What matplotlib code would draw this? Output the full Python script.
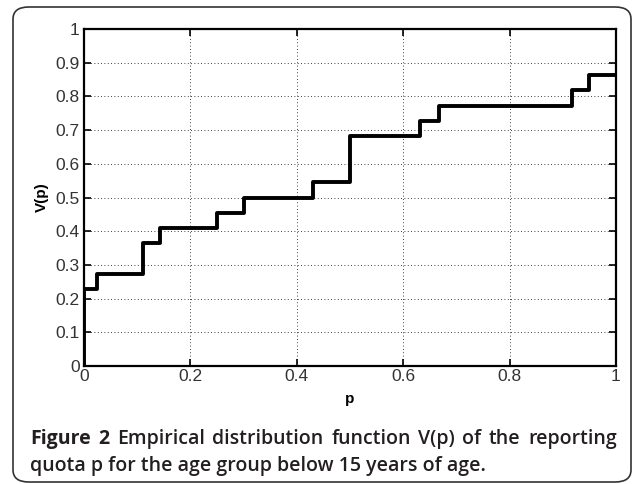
import numpy as np
import matplotlib
matplotlib.use("Agg")
import matplotlib.pyplot as plt
from matplotlib.patches import FancyBboxPatch

# step positions and values of the empirical distribution function
p_steps = [0, 0.024, 0.11, 0.142, 0.25, 0.30, 0.43, 0.50, 0.632, 0.667, 0.917, 0.95, 1.0]
v_steps = [5/22, 6/22, 8/22, 9/22, 10/22, 11/22, 12/22, 15/22, 16/22, 17/22, 18/22, 19/22, 19/22]

x_ticks = [0, 0.2, 0.4, 0.6, 0.8, 1]
x_ticklabels = ["0", "0.2", "0.4", "0.6", "0.8", "1"]
y_ticks = [0, 0.1, 0.2, 0.3, 0.4, 0.5, 0.6, 0.7, 0.8, 0.9, 1]
y_ticklabels = ["0", "0.1", "0.2", "0.3", "0.4", "0.5", "0.6", "0.7", "0.8", "0.9", "1"]

caption_line1 = [("Figure", "bold"), ("2", "bold"), ("Empirical", "semibold"),
                 ("distribution", "semibold"), ("function", "semibold"), ("V(p)", "semibold"),
                 ("of", "semibold"), ("the", "semibold"), ("reporting", "semibold")]
caption_line2 = "quota p for the age group below 15 years of age."

fig = plt.figure(figsize=(6.34, 4.84), dpi=100)

# rounded frame around figure + caption
frame = FancyBboxPatch((13/634, 2/484), 618/634, 475/484,
                       boxstyle="round,pad=0,rounding_size=0.025",
                       transform=fig.transFigure, facecolor="none",
                       edgecolor="#333333", linewidth=1.2)
fig.patches.append(frame)

ax = fig.add_axes([84/634, 1 - 366/484, 532/634, 337/484])

xs = [0] + p_steps
ys = [0] + v_steps
ax.step(xs, ys, where="post", color="black", linewidth=2.8)

ax.set_xlim(0, 1)
ax.set_ylim(0, 1)
ax.set_xticks(x_ticks)
ax.set_xticklabels(x_ticklabels)
ax.set_yticks(y_ticks)
ax.set_yticklabels(y_ticklabels)
ax.grid(True, linestyle=(0, (1, 3)), color="black", linewidth=0.6)
ax.tick_params(direction="in", length=5, width=1.2, top=True, right=True,
               labelsize=12.5, colors="black")
ax.tick_params(axis="x", pad=2)
ax.tick_params(axis="y", pad=3)
for lab in ax.get_xticklabels() + ax.get_yticklabels():
    lab.set_family("Liberation Sans")
    lab.set_color("#333333")
for sp in ax.spines.values():
    sp.set_linewidth(1.6)

ax.set_xlabel("p", fontsize=11, fontweight="bold", family="Liberation Sans", labelpad=6)
ax.set_ylabel("V(p)", fontsize=11, fontweight="bold", family="Liberation Sans", labelpad=5)

# caption, first line justified between x0 and x1
x0, x1 = 30, 617
cap_size = 14
cap_col = "#231f20"
fig.canvas.draw()
renderer = fig.canvas.get_renderer()
words = []
total = 0
for w, wt in caption_line1:
    t = fig.text(0, 0, w, fontsize=cap_size, fontweight=wt, family="Open Sans", color=cap_col)
    bb = t.get_window_extent(renderer)
    words.append((t, bb.width))
    total += bb.width
gap = (x1 - x0 - total) / (len(words) - 1)
xpos = x0
for t, wdt in words:
    t.set_position((xpos / 634, 1 - 444/484))
    xpos += wdt + gap

fig.text(x0/634, 1 - 471/484, caption_line2, fontsize=cap_size, fontweight="semibold",
         family="Open Sans", color=cap_col)

fig.savefig("out.png", dpi=100)
